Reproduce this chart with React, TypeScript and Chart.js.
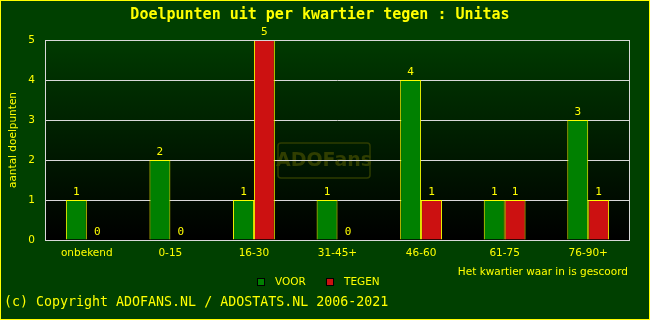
import React, { useEffect, useRef } from "react";
import { Chart, registerables } from "chart.js";

Chart.register(...registerables);

const categories = ["onbekend", "0-15", "16-30", "31-45+", "46-60", "61-75", "76-90+"];
const voor = [1, 2, 1, 1, 4, 1, 3];
const tegen = [0, 0, 5, 0, 1, 1, 1];
const seriesNames = ["VOOR", "TEGEN"];
const yTicks = [0, 1, 2, 3, 4, 5];
const titleText = "Doelpunten uit per kwartier tegen : Unitas";
const yTitle = "aantal doelpunten";
const xNote = "Het kwartier waar in is gescoord";
const copyright = "(c) Copyright ADOFANS.NL / ADOSTATS.NL 2006-2021";
const watermark = "ADOFans";

const YELLOW = "#ffff00";
const BG = "#004000";
const GREEN = "#008000";
const RED = "#cc1111";
const GRID = "#d8d8d8";

const decor = {
  id: "decor",
  beforeDraw(chart: any) {
    const { ctx, chartArea: a, width, height } = chart;
    ctx.save();
    ctx.fillStyle = BG;
    ctx.fillRect(0, 0, width, height);
    const g = ctx.createLinearGradient(0, a.top, 0, a.bottom);
    g.addColorStop(0, "#003a00");
    g.addColorStop(1, "#000000");
    ctx.fillStyle = g;
    ctx.fillRect(a.left, a.top, a.right - a.left, a.bottom - a.top);
    // watermark
    ctx.strokeStyle = "#2e3c00";
    ctx.lineWidth = 1.5;
    const bx = 278, by = 143, bw = 92, bh = 35;
    ctx.beginPath();
    if (ctx.roundRect) ctx.roundRect(bx, by, bw, bh, 3);
    else ctx.rect(bx, by, bw, bh);
    ctx.stroke();
    ctx.fillStyle = "#303e00";
    ctx.font = "bold 19px 'DejaVu Sans'";
    ctx.textAlign = "center";
    ctx.textBaseline = "middle";
    ctx.fillText(watermark, bx + bw / 2, by + bh / 2 + 1);
    ctx.restore();
  },
  afterDatasetsDraw(chart: any) {
    const { ctx, chartArea: a } = chart;
    ctx.save();
    // plot border
    ctx.strokeStyle = GRID;
    ctx.lineWidth = 1;
    ctx.strokeRect(Math.round(a.left) + 0.5, Math.round(a.top) + 0.5, Math.round(a.right - a.left) - 1, Math.round(a.bottom - a.top));
    // value labels
    ctx.fillStyle = YELLOW;
    ctx.font = "11px 'DejaVu Sans Mono'";
    ctx.textAlign = "center";
    ctx.textBaseline = "alphabetic";
    chart.data.datasets.forEach((ds: any, i: number) => {
      const meta = chart.getDatasetMeta(i);
      meta.data.forEach((el: any, j: number) => {
        const v = ds.data[j];
        ctx.fillText(String(v), el.x, el.y - 5);
      });
    });
    ctx.restore();
  },
  afterDraw(chart: any) {
    const { ctx, width, height, chartArea: a } = chart;
    ctx.save();
    ctx.fillStyle = YELLOW;
    ctx.textBaseline = "middle";
    // title
    ctx.font = "bold 15px 'DejaVu Sans Mono'";
    ctx.textAlign = "center";
    ctx.fillText(titleText, 320, 15);
    // y title
    ctx.save();
    ctx.translate(13, (a.top + a.bottom) / 2);
    ctx.rotate(-Math.PI / 2);
    ctx.font = "10.5px 'DejaVu Sans'";
    ctx.fillText(yTitle, 0, 0);
    ctx.restore();
    // note
    ctx.font = "10.5px 'DejaVu Sans'";
    ctx.textAlign = "right";
    ctx.fillText(xNote, 628, 272);
    // legend
    const items = [
      { name: seriesNames[0], color: GREEN, x: 257 },
      { name: seriesNames[1], color: RED, x: 326 },
    ];
    items.forEach((it) => {
      ctx.fillStyle = it.color;
      ctx.fillRect(it.x, 278, 8, 8);
      ctx.strokeStyle = "#000000";
      ctx.lineWidth = 1;
      ctx.strokeRect(it.x + 0.5, 278.5, 7, 7);
      ctx.fillStyle = YELLOW;
      ctx.textAlign = "left";
      ctx.font = "10.5px 'DejaVu Sans'";
      ctx.fillText(it.name, it.x + 18, 282);
    });
    // copyright
    ctx.font = "13.3px 'DejaVu Sans Mono'";
    ctx.textAlign = "left";
    ctx.fillText(copyright, 4, 303);
    // outer border
    ctx.strokeStyle = YELLOW;
    ctx.lineWidth = 1;
    ctx.strokeRect(0.5, 0.5, width - 1, height - 1);
    ctx.restore();
  },
};

export default function App() {
  const ref = useRef<HTMLCanvasElement>(null);
  useEffect(() => {
    if (!ref.current) return;
    const chart = new Chart(ref.current, {
      type: "bar",
      data: {
        labels: categories,
        datasets: [
          { label: seriesNames[0], data: voor, backgroundColor: GREEN, borderColor: YELLOW, borderWidth: 1, categoryPercentage: 0.5, barPercentage: 1 },
          { label: seriesNames[1], data: tegen, backgroundColor: RED, borderColor: YELLOW, borderWidth: 1, categoryPercentage: 0.5, barPercentage: 1 },
        ],
      },
      options: {
        animation: false,
        responsive: false,
        maintainAspectRatio: false,
        devicePixelRatio: 1,
        layout: { padding: { top: 40, right: 20, bottom: 60, left: 0 } },
        plugins: { legend: { display: false }, tooltip: { enabled: false }, title: { display: false } },
        scales: {
          x: {
            grid: { display: false, drawTicks: false },
            border: { display: false },
            ticks: { color: YELLOW, font: { family: "'DejaVu Sans'", size: 10.5 }, padding: 7, maxRotation: 0, autoSkip: false },
            afterFit: (s: any) => { s.height = 20; },
          },
          y: {
            min: 0,
            max: 5,
            afterBuildTicks: (s: any) => { s.ticks = yTicks.map((v) => ({ value: v })); },
            grid: { color: GRID, lineWidth: 1, drawTicks: false },
            border: { display: false },
            ticks: { color: YELLOW, font: { family: "'DejaVu Sans'", size: 10.5 }, padding: 10, stepSize: 1 },
            afterFit: (s: any) => { s.width = 45; },
          },
        },
      },
      plugins: [decor],
    });
    return () => chart.destroy();
  }, []);
  return (
    <div style={{ position: "fixed", left: 0, top: 0, width: 650, height: 320 }}>
      <canvas ref={ref} width={650} height={320} style={{ display: "block" }} />
    </div>
  );
}
